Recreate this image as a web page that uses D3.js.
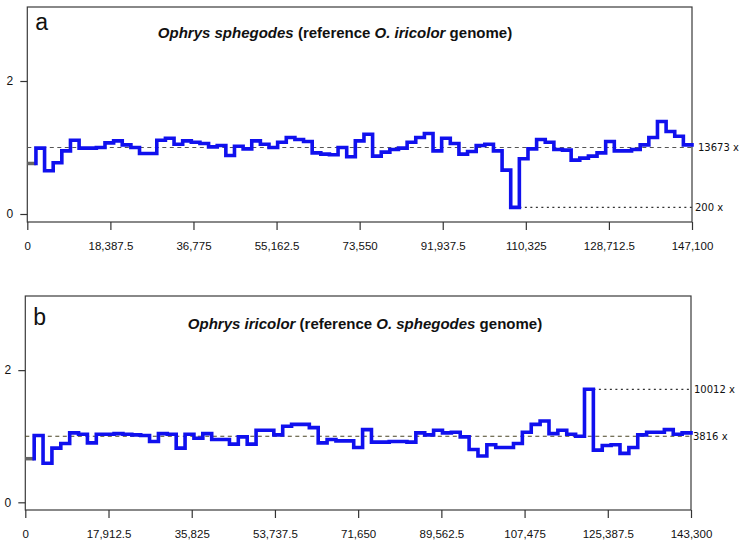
<!DOCTYPE html>
<html>
<head>
<meta charset="utf-8">
<script src="https://cdn.jsdelivr.net/npm/d3@7"></script>
<style>
  html, body { margin: 0; padding: 0; background: #fff; }
  svg { display: block; }
  text { font-family: "Liberation Sans", Arial, Helvetica, sans-serif; fill: #111; }
</style>
</head>
<body>
<svg id="chart" width="740" height="555"></svg>
<script>
// ---------- DATA ----------
// Panel a: Ophrys sphegodes (reference O. iricolor genome), 77 windows over 147,100 bp
const lengthA = 147100;
const valuesA = [0.76, 0.99, 0.65, 0.77, 0.95, 1.11, 0.99, 0.99, 1.00, 1.07,
  1.10, 1.04, 1.00, 0.91, 0.91, 1.11, 1.14, 1.05, 1.10, 1.08,
  1.06, 1.01, 1.03, 0.88, 1.02, 0.98, 1.10, 1.05, 1.00, 1.08,
  1.15, 1.12, 1.09, 0.92, 0.90, 0.89, 1.00, 0.86, 1.10, 1.20,
  0.87, 0.93, 0.97, 0.99, 1.08, 1.15, 1.21, 0.95, 1.14, 1.06,
  0.90, 0.94, 1.03, 1.05, 0.95, 0.66, 0.10, 0.83, 0.98, 1.12,
  1.08, 0.97, 0.96, 0.81, 0.84, 0.87, 0.92, 1.09, 0.95, 0.95,
  0.97, 1.04, 1.15, 1.39, 1.24, 1.17, 1.04];
const xTicksA = [0, 18387.5, 36775, 55162.5, 73550, 91937.5, 110325, 128712.5, 147100];
const xTickLabelsA = ["0", "18,387.5", "36,775", "55,162.5", "73,550", "91,937.5", "110,325", "128,712.5", "147,100"];
const meanLabelA = "13673 x";
const minLabelA = "200 x";
const minIndexA = 56;

// Panel b: Ophrys iricolor (reference O. sphegodes genome), 75 windows over 143,300 bp
const lengthB = 143300;
const valuesB = [0.66, 1.01, 0.59, 0.82, 0.89, 1.05, 1.03, 0.90, 1.03, 1.03,
  1.04, 1.03, 1.02, 1.01, 0.92, 1.04, 1.03, 0.82, 1.03, 0.97,
  1.04, 0.95, 0.95, 0.88, 0.99, 0.88, 1.09, 1.09, 1.02, 1.15,
  1.18, 1.18, 1.13, 0.90, 0.95, 0.93, 0.93, 0.83, 1.10, 0.91,
  0.91, 0.92, 0.92, 0.91, 1.05, 1.02, 1.09, 1.05, 1.06, 0.99,
  0.80, 0.70, 0.87, 0.83, 0.83, 0.89, 1.06, 1.18, 1.23, 1.04,
  1.09, 1.03, 1.00, 1.71, 0.79, 0.86, 0.87, 0.74, 0.83, 1.02,
  1.06, 1.06, 1.10, 1.03, 1.05];
const xTicksB = [0, 17912.5, 35825, 53737.5, 71650, 89562.5, 107475, 125387.5, 143300];
const xTickLabelsB = ["0", "17,912.5", "35,825", "53,737.5", "71,650", "89,562.5", "107,475", "125,387.5", "143,300"];
const meanLabelB = "3816 x";
const maxLabelB = "10012 x";
const maxIndexB = 63;

const yTicks = [0, 2];
const yTickLabels = ["0", "2"];

// ---------- DRAW ----------
const svg = d3.select("#chart");

function panel(cfg) {
  const g = svg.append("g");
  const x = d3.scaleLinear().domain([0, cfg.length]).range([cfg.left, cfg.right]);
  const y = d3.scaleLinear().domain([cfg.yMin, cfg.yMax]).range([cfg.bottom, cfg.top]);
  const n = cfg.values.length;
  const w = cfg.length / n;

  // frame
  g.append("rect")
    .attr("x", cfg.left).attr("y", cfg.top)
    .attr("width", cfg.right - cfg.left).attr("height", cfg.bottom - cfg.top)
    .attr("fill", "none").attr("stroke", "#3a3a3a").attr("stroke-width", 1.2);

  // x axis
  const xa = g.append("g").attr("transform", `translate(0,${cfg.bottom})`)
    .call(d3.axisBottom(x).tickValues(cfg.xTicks)
      .tickFormat((d, i) => cfg.xTickLabels[i]).tickSize(8).tickSizeOuter(0).tickPadding(12));
  xa.select(".domain").remove();
  xa.selectAll("line").attr("stroke", "#333").attr("stroke-width", 1.2);
  xa.selectAll("text").style("font-size", "11.5px")
    .style("font-family", '"Liberation Sans", Arial, sans-serif').attr("fill", "#111");

  // y axis
  const ya = g.append("g").attr("transform", `translate(${cfg.left},0)`)
    .call(d3.axisLeft(y).tickValues(yTicks)
      .tickFormat((d, i) => yTickLabels[i]).tickSize(7).tickSizeOuter(0).tickPadding(7));
  ya.select(".domain").remove();
  ya.selectAll("line").attr("stroke", "#333").attr("stroke-width", 1.2);
  ya.selectAll("text").style("font-size", "12px")
    .style("font-family", '"Liberation Sans", Arial, sans-serif').attr("fill", "#111");

  // mean dashed line
  g.append("line")
    .attr("x1", cfg.left).attr("x2", cfg.right)
    .attr("y1", y(1)).attr("y2", y(1))
    .attr("stroke", cfg.dashColor).attr("stroke-width", 1.2)
    .attr("stroke-dasharray", "4,3.5");

  // extreme dotted line
  const ei = cfg.extremeIndex;
  g.append("line")
    .attr("x1", x((ei + 1) * w)).attr("x2", cfg.right)
    .attr("y1", y(cfg.values[ei])).attr("y2", y(cfg.values[ei]))
    .attr("stroke", "#333").attr("stroke-width", 1.2)
    .attr("stroke-dasharray", "2,3.5");

  // first window (grey)
  g.append("line")
    .attr("x1", x(0)).attr("x2", x(w))
    .attr("y1", y(cfg.values[0])).attr("y2", y(cfg.values[0]))
    .attr("stroke", "#666").attr("stroke-width", 3.5);

  // step line (blue)
  const pts = [[w, cfg.values[0]]];
  for (let i = 1; i < n; i++) pts.push([i * w, cfg.values[i]]);
  pts.push([n * w, cfg.values[n - 1]]);
  const line = d3.line().x(d => x(d[0])).y(d => y(d[1])).curve(d3.curveStepAfter);
  g.append("path").datum(pts)
    .attr("d", line)
    .attr("fill", "none").attr("stroke", "#1010ee").attr("stroke-width", 3.6)
    .attr("stroke-linejoin", "miter").attr("stroke-linecap", "square");

  // right-side labels
  const lab = (txt, v, dx) => g.append("text")
    .attr("x", cfg.right + dx).attr("y", y(v)).attr("dy", "0.35em")
    .style("font-family", '"DejaVu Sans", sans-serif').style("font-size", "10px")
    .attr("fill", "#111").text(txt);
  lab(cfg.meanLabel, 1, cfg.meanDx);
  lab(cfg.extremeLabel, cfg.values[ei], 3);

  // panel letter
  g.append("text").attr("x", cfg.left + 8).attr("y", cfg.letterY)
    .style("font-size", "23px").style("font-family", '"Liberation Sans", Arial, sans-serif')
    .text(cfg.letter);

  // title
  const t = g.append("text").attr("x", cfg.titleX).attr("y", cfg.titleY)
    .attr("text-anchor", "middle")
    .style("font-size", "15px").style("font-weight", "bold");
  cfg.title.forEach(p => t.append("tspan").style("font-style", p[1] ? "italic" : "normal").text(p[0]));
}

panel({
  length: lengthA, values: valuesA, xTicks: xTicksA, xTickLabels: xTickLabelsA,
  left: 27.3, right: 692, top: 7, bottom: 222, yMin: -0.1203, yMax: 3.113,
  dashColor: "#555", extremeIndex: minIndexA,
  meanLabel: meanLabelA, extremeLabel: minLabelA, meanDx: 6,
  letter: "a", letterY: 30,
  title: [["Ophrys sphegodes", true], [" (reference ", false], ["O. iricolor", true], [" genome)", false]],
  titleX: 335, titleY: 38
});

panel({
  length: lengthB, values: valuesB, xTicks: xTicksB, xTickLabels: xTickLabelsB,
  left: 25.3, right: 691, top: 296, bottom: 510, yMin: -0.1164, yMax: 3.122,
  dashColor: "#4a4425", extremeIndex: maxIndexB,
  meanLabel: meanLabelB, extremeLabel: maxLabelB, meanDx: 2,
  letter: "b", letterY: 325,
  title: [["Ophrys iricolor", true], [" (reference ", false], ["O. sphegodes", true], [" genome)", false]],
  titleX: 365, titleY: 329
});
</script>
</body>
</html>
